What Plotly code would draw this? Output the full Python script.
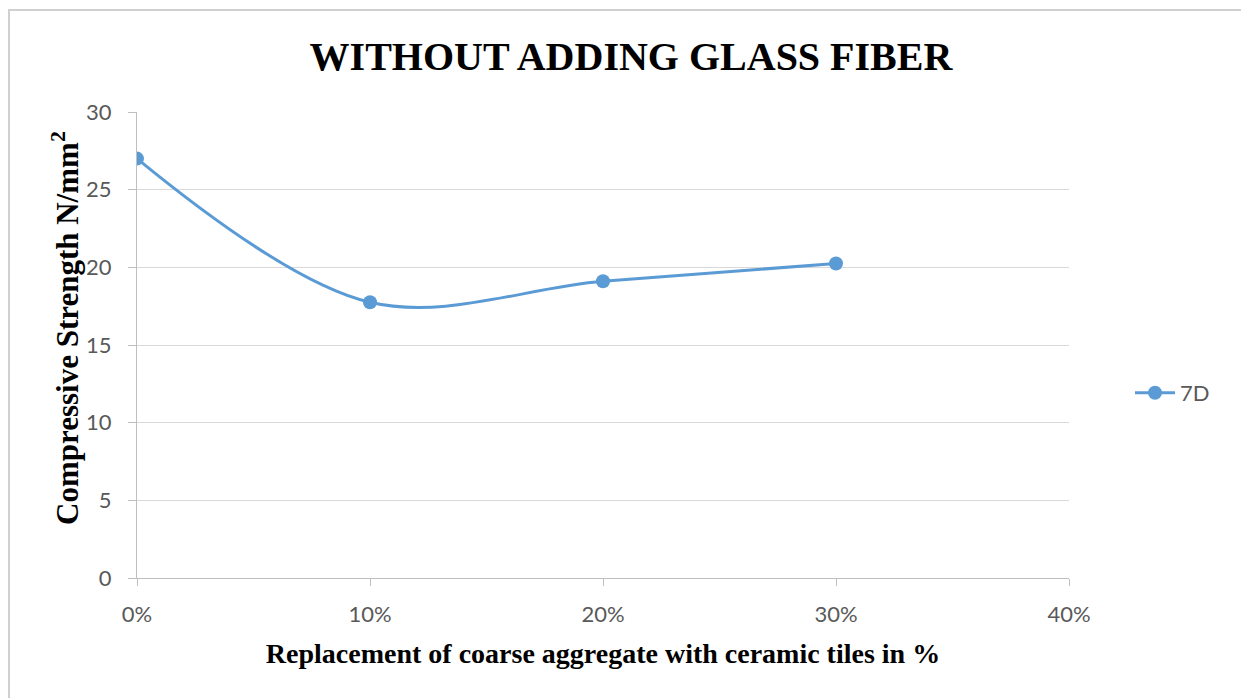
import plotly.graph_objects as go

# Data
replacement = [0, 0.10, 0.20, 0.30]
strength_7d = [27.0, 17.75, 19.1, 20.25]
series_name = "7D"
x_ticks = [0, 0.10, 0.20, 0.30, 0.40]
x_tick_labels = ["0%", "10%", "20%", "30%", "40%"]
y_ticks = [0, 5, 10, 15, 20, 25, 30]

BLUE = "#5b9bd5"
OFF = 8  # page body margin
W, H = 1249 - OFF, 698 - OFF
L, R, T, B = 137 - OFF, 180, 112 - OFF, 120
pw, ph = W - L - R, H - T - B

fig = go.Figure()
fig.add_trace(go.Scatter(
    x=replacement, y=strength_7d, name=series_name,
    mode="lines+markers",
    line=dict(color=BLUE, width=3, shape="spline", smoothing=1.0),
    marker=dict(color=BLUE, size=14),
))

def px_x(p):
    return (p - OFF - L) / pw

def px_y(p):
    return (H - B - (p - OFF)) / ph

tickfont = dict(family="Lato", size=22, color="#595959")

fig.update_layout(
    width=W, height=H,
    margin=dict(l=L, r=R, t=T, b=B),
    paper_bgcolor="white", plot_bgcolor="white",
    title=dict(
        text="<b>WITHOUT ADDING GLASS FIBER</b>",
        font=dict(family="Liberation Serif", size=40, color="black"),
        x=(631 - OFF) / W, xanchor="center", xref="container",
        y=1 - (56 - OFF) / H, yanchor="middle",
    ),
    xaxis=dict(
        range=[0, 0.40], tickvals=x_ticks, ticktext=x_tick_labels,
        showgrid=False, zeroline=False,
        showline=True, linecolor="#bfbfbf", linewidth=1,
        ticks="outside", ticklen=7, tickcolor="#bfbfbf",
        ticklabelstandoff=10,
        tickfont=tickfont,
        title=dict(text="<b>Replacement of coarse aggregate with ceramic tiles in %</b>",
                   font=dict(family="Liberation Serif", size=28, color="black"),
                   standoff=16),
    ),
    yaxis=dict(
        range=[0, 30], tickvals=y_ticks,
        showgrid=True, gridcolor="#d9d9d9", gridwidth=1,
        zeroline=False,
        showline=True, linecolor="#bfbfbf", linewidth=1,
        ticks="outside", ticklen=8, tickcolor="#bfbfbf",
        ticklabelstandoff=12,
        tickfont=tickfont,
    ),
    annotations=[
        dict(text="<b>Compressive Strength N/mm<sup>2</sup></b>",
             font=dict(family="Liberation Serif", size=31, color="black"),
             textangle=-90, showarrow=False,
             xref="paper", yref="paper",
             x=px_x(65), y=px_y(328), xanchor="center", yanchor="middle"),
    ],
    showlegend=True,
    legend=dict(
        x=px_x(1130), y=px_y(393), xanchor="left", yanchor="middle",
        font=tickfont,
        bgcolor="rgba(0,0,0,0)", itemwidth=40,
    ),
    shapes=[
        dict(type="line", xref="paper", yref="paper",
             x0=px_x(OFF), x1=px_x(1260), y0=px_y(10), y1=px_y(10),
             line=dict(color="#d0d0d0", width=2)),
        dict(type="line", xref="paper", yref="paper",
             x0=px_x(OFF + 1), x1=px_x(OFF + 1), y0=px_y(10), y1=px_y(710),
             line=dict(color="#d0d0d0", width=2)),
    ],
)

fig.write_html("out.html")
